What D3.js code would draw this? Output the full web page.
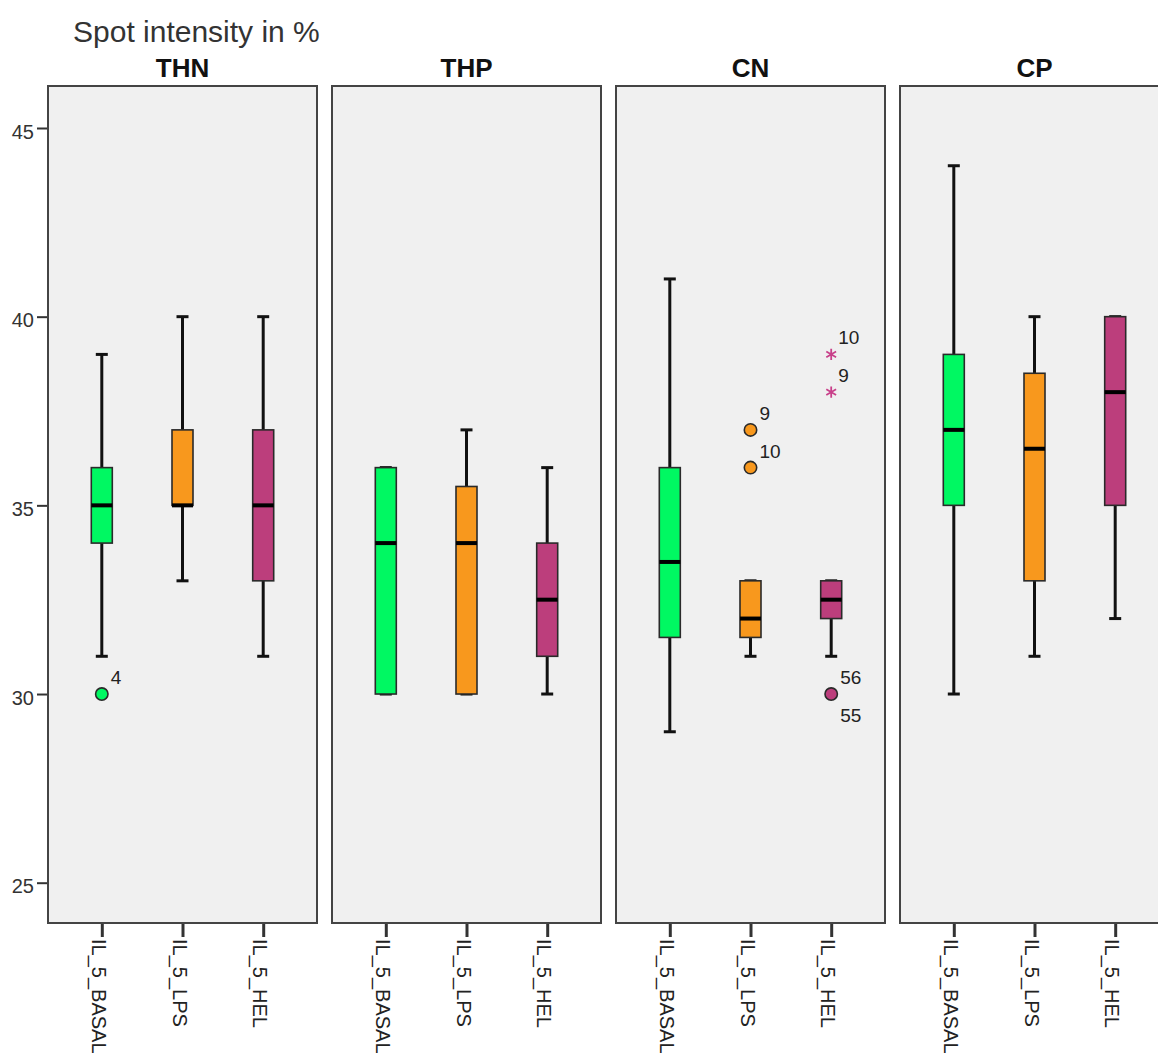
<!DOCTYPE html>
<html>
<head>
<meta charset="utf-8">
<script src="https://cdn.jsdelivr.net/npm/d3@7"></script>
<style>
  html, body { margin: 0; padding: 0; background: #ffffff; }
  svg { display: block; font-family: "Liberation Sans", Arial, sans-serif; }
</style>
</head>
<body>
<svg id="chart" width="1158" height="1064"></svg>
<script>
// ---- data ----
const panels = ["THN", "THP", "CN", "CP"];
const groups = ["IL_5_BASAL", "IL_5_LPS", "IL_5_HEL"];
const yTicks = [25, 30, 35, 40, 45];
const yTitle = "Spot intensity in %";

// per panel: [BASAL, LPS, HEL]
const whiskerLow  = [[31, 33, 31], [30, 30, 30], [29, 31, 31], [30, 31, 32]];
const quartile1   = [[34, 35, 33], [30, 30, 31], [31.5, 31.5, 32], [35, 33, 35]];
const medians     = [[35, 35, 35], [34, 34, 32.5], [33.5, 32, 32.5], [37, 36.5, 38]];
const quartile3   = [[36, 37, 37], [36, 35.5, 34], [36, 33, 33], [39, 38.5, 40]];
const whiskerHigh = [[39, 40, 40], [36, 37, 36], [41, 33, 33], [44, 40, 40]];

// outliers (circle) and extremes (star), with case labels
const outlierPanel = ["THN", "CN", "CN", "CN", "CN"];
const outlierGroup = ["IL_5_BASAL", "IL_5_LPS", "IL_5_LPS", "IL_5_HEL", "IL_5_HEL"];
const outlierValue = [30, 37, 36, 30, 30];
const outlierLabel = ["4", "9", "10", "56", "55"];

const extremePanel = ["CN", "CN"];
const extremeGroup = ["IL_5_HEL", "IL_5_HEL"];
const extremeValue = [39, 38];
const extremeLabel = ["10", "9"];

const groupColors = ["#00f862", "#f8981d", "#bc3e7c"];

// ---- layout ----
const svg = d3.select("#chart");
const plotTop = 86, plotBottom = 923;

const px = d3.scaleBand().domain(panels).range([48, 1169]).paddingInner(15 / 284).paddingOuter(0);
const gx = d3.scalePoint().domain(groups).range([0, px.bandwidth()]).padding(2 / 3);
const y = d3.scaleLinear().domain([25, 45]).range([882.7, 128]);
const color = d3.scaleOrdinal().domain(groups).range(groupColors);

const boxW = 21, capW = 12;

// y title
svg.append("text")
  .attr("x", 73).attr("y", 42)
  .attr("font-size", 30).attr("fill", "#333")
  .text(yTitle);

// y axis
const yAxis = svg.append("g")
  .attr("transform", `translate(${px(panels[0]) - 1},0)`)
  .call(d3.axisLeft(y).tickValues(yTicks).tickSize(10).tickPadding(3).tickFormat(d3.format("d")));
yAxis.select(".domain").remove();
yAxis.selectAll(".tick line").attr("stroke", "#333").attr("stroke-width", 2);
yAxis.selectAll(".tick text")
  .attr("font-size", 20).attr("fill", "#333")
  .attr("font-family", "Liberation Sans, Arial, sans-serif")
  .attr("dy", "0.5em");

panels.forEach((p, pi) => {
  const g = svg.append("g").attr("transform", `translate(${px(p)},0)`);

  // panel title
  g.append("text")
    .attr("x", px.bandwidth() / 2).attr("y", 77)
    .attr("text-anchor", "middle")
    .attr("font-size", 26).attr("font-weight", "bold").attr("fill", "#111")
    .text(p);

  // bottom axis
  const xa = g.append("g")
    .attr("transform", `translate(0,${plotBottom})`)
    .call(d3.axisBottom(gx).tickSize(14).tickFormat(""));
  xa.select(".domain").remove();
  xa.selectAll(".tick line").attr("stroke", "#333").attr("stroke-width", 3);
  xa.selectAll(".tick").append("text")
    .attr("transform", "translate(0,16) rotate(90)")
    .attr("x", 0).attr("y", 10.5)
    .attr("text-anchor", "start")
    .attr("font-size", 20).attr("fill", "#222")
    .attr("font-family", "Liberation Sans, Arial, sans-serif")
    .text(d => d);

  // panel frame
  g.append("rect")
    .attr("x", 0).attr("y", plotTop)
    .attr("width", px.bandwidth()).attr("height", plotBottom - plotTop)
    .attr("fill", "#f0f0f0").attr("stroke", "#444").attr("stroke-width", 2);

  groups.forEach((grp, gi) => {
    const cx = gx(grp);
    const lo = whiskerLow[pi][gi], q1 = quartile1[pi][gi], md = medians[pi][gi],
          q3 = quartile3[pi][gi], hi = whiskerHigh[pi][gi];
    const bg = g.append("g");
    // whiskers
    bg.append("line").attr("x1", cx).attr("x2", cx).attr("y1", y(hi)).attr("y2", y(q3))
      .attr("stroke", "#111").attr("stroke-width", 3);
    bg.append("line").attr("x1", cx).attr("x2", cx).attr("y1", y(q1)).attr("y2", y(lo))
      .attr("stroke", "#111").attr("stroke-width", 3);
    [lo, hi].forEach(v => {
      bg.append("line").attr("x1", cx - capW / 2).attr("x2", cx + capW / 2)
        .attr("y1", y(v)).attr("y2", y(v))
        .attr("stroke", "#111").attr("stroke-width", 3);
    });
    // box
    bg.append("rect")
      .attr("x", cx - boxW / 2).attr("y", y(q3))
      .attr("width", boxW).attr("height", y(q1) - y(q3))
      .attr("fill", color(grp)).attr("stroke", "#2a2a2a").attr("stroke-width", 1.6);
    // median
    bg.append("line").attr("x1", cx - boxW / 2).attr("x2", cx + boxW / 2)
      .attr("y1", y(md)).attr("y2", y(md))
      .attr("stroke", "#000").attr("stroke-width", 4);
  });

  // outliers
  const seen = {};
  outlierValue.forEach((v, i) => {
    if (outlierPanel[i] !== p) return;
    const grp = outlierGroup[i];
    const cx = gx(grp), cy = y(v);
    const key = grp + "|" + v;
    const below = seen[key];
    seen[key] = true;
    if (!below) {
      g.append("circle").attr("cx", cx).attr("cy", cy).attr("r", 6.2)
        .attr("fill", color(grp)).attr("stroke", "#2a2a2a").attr("stroke-width", 1.6);
    }
    g.append("text")
      .attr("x", cx + 9).attr("y", below ? cy + 28 : cy - 10)
      .attr("font-size", 19).attr("fill", "#222")
      .text(outlierLabel[i]);
  });

  // extremes
  const star = d3.symbol().type(d3.symbolAsterisk).size(90);
  extremeValue.forEach((v, i) => {
    if (extremePanel[i] !== p) return;
    const grp = extremeGroup[i];
    const cx = gx(grp), cy = y(v);
    g.append("path").attr("d", star())
      .attr("transform", `translate(${cx},${cy})`)
      .attr("fill", "none").attr("stroke", "#c8408a").attr("stroke-width", 1.8);
    g.append("text")
      .attr("x", cx + 7).attr("y", cy - 10)
      .attr("font-size", 19).attr("fill", "#222")
      .text(extremeLabel[i]);
  });
});
</script>
</body>
</html>
